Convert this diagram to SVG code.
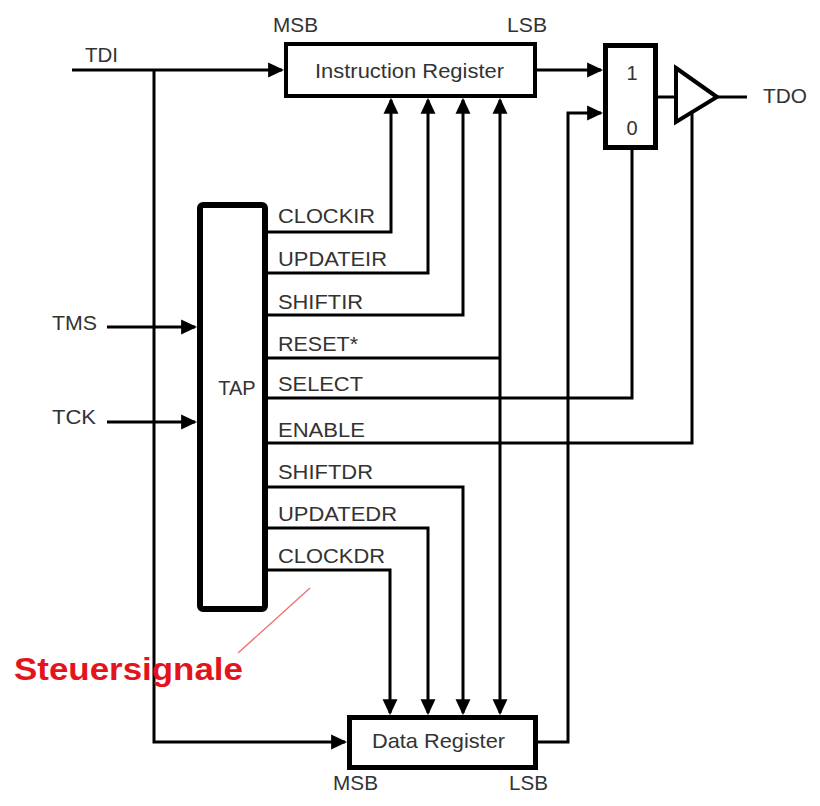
<svg xmlns="http://www.w3.org/2000/svg" width="820" height="806" viewBox="0 0 820 806">
<style>
.box{fill:#fff;stroke:#000}
.w{fill:none;stroke:#000;stroke-width:3;stroke-linejoin:miter}
.t{font-family:"Liberation Sans",Arial,sans-serif;font-size:20px;fill:#333}
.big{font-size:21px}
.red{font-family:"Liberation Sans",Arial,sans-serif;font-size:31px;font-weight:bold;fill:#e3141c}
</style>
<defs>
<marker id="ah" markerUnits="userSpaceOnUse" markerWidth="16" markerHeight="16" viewBox="0 0 15 14" refX="13" refY="7" orient="auto">
<path d="M0,0 L15,7 L0,14 z" fill="#000"/>
</marker>
</defs>
<rect width="820" height="806" fill="#fff"/>

<g id="connectors">
<path class="w" d="M72,70 H282" marker-end="url(#ah)"/>
<path class="w" d="M154,70 V742 H345" marker-end="url(#ah)"/>
<path class="w" d="M537,70 H601" marker-end="url(#ah)"/>
<path class="w" d="M538,742 H568 V113 H601" marker-end="url(#ah)"/>
<path class="w" d="M658,97 H676"/>
<path class="w" d="M716,97 H747"/>
<path class="w" d="M107,327 H195" marker-end="url(#ah)"/>
<path class="w" d="M107,422 H195" marker-end="url(#ah)"/>
<path class="w" d="M268,232 H391 V100" marker-end="url(#ah)"/>
<path class="w" d="M268,273 H428 V100" marker-end="url(#ah)"/>
<path class="w" d="M268,315 H463 V100" marker-end="url(#ah)"/>
<path class="w" d="M268,358 H500"/>
<path class="w" d="M500,358 V100" marker-end="url(#ah)"/>
<path class="w" d="M500,358 V713" marker-end="url(#ah)"/>
<path class="w" d="M268,398 H632 V150"/>
<path class="w" d="M268,443 H692 V110"/>
<path class="w" d="M268,487 H463 V713" marker-end="url(#ah)"/>
<path class="w" d="M268,528 H428 V713" marker-end="url(#ah)"/>
<path class="w" d="M268,570 H390 V713" marker-end="url(#ah)"/>
<path d="M310,588 L238,653" stroke="#f07070" stroke-width="1.3" fill="none"/>
</g>

<g id="instruction-register">
<rect class="box" x="286" y="44" width="249" height="52" stroke-width="4"/>
<text class="t big" x="315" y="78" textLength="189" lengthAdjust="spacingAndGlyphs">Instruction Register</text>
<text class="t big" x="273" y="32" textLength="45" lengthAdjust="spacingAndGlyphs">MSB</text>
<text class="t big" x="507" y="32" textLength="40" lengthAdjust="spacingAndGlyphs">LSB</text>
</g>

<g id="mux">
<rect class="box" x="605.5" y="45.5" width="50" height="102" stroke-width="5"/>
<text class="t" x="632" y="80" text-anchor="middle">1</text>
<text class="t" x="632" y="135" text-anchor="middle">0</text>
</g>

<g id="buffer">
<polygon class="box" points="676,68 717,97 676,122" stroke-width="4" stroke-linejoin="miter"/>
</g>

<g id="tdo">
<text class="t big" x="763" y="103" textLength="44" lengthAdjust="spacingAndGlyphs">TDO</text>
</g>

<g id="tdi">
<text class="t big" x="85" y="62" textLength="33" lengthAdjust="spacingAndGlyphs">TDI</text>
</g>

<g id="tms">
<text class="t big" x="52" y="330" textLength="45" lengthAdjust="spacingAndGlyphs">TMS</text>
</g>

<g id="tck">
<text class="t big" x="52" y="424" textLength="44" lengthAdjust="spacingAndGlyphs">TCK</text>
</g>

<g id="tap">
<rect class="box" x="200" y="205" width="65" height="404" rx="3" stroke-width="6"/>
<text class="t" x="237" y="395" text-anchor="middle" font-size="19">TAP</text>
</g>

<g id="signals">
<text class="t" x="278" y="223" textLength="97" lengthAdjust="spacingAndGlyphs">CLOCKIR</text>
<text class="t" x="278" y="266" textLength="109" lengthAdjust="spacingAndGlyphs">UPDATEIR</text>
<text class="t" x="278" y="309" textLength="85" lengthAdjust="spacingAndGlyphs">SHIFTIR</text>
<text class="t" x="278" y="351" textLength="80" lengthAdjust="spacingAndGlyphs">RESET*</text>
<text class="t" x="278" y="391" textLength="85" lengthAdjust="spacingAndGlyphs">SELECT</text>
<text class="t" x="278" y="437" textLength="87" lengthAdjust="spacingAndGlyphs">ENABLE</text>
<text class="t" x="278" y="479" textLength="95" lengthAdjust="spacingAndGlyphs">SHIFTDR</text>
<text class="t" x="278" y="521" textLength="119" lengthAdjust="spacingAndGlyphs">UPDATEDR</text>
<text class="t" x="278" y="563" textLength="107" lengthAdjust="spacingAndGlyphs">CLOCKDR</text>
</g>

<g id="data-register">
<rect class="box" x="349.5" y="717.5" width="186" height="50" stroke-width="5"/>
<text class="t big" x="372" y="748" textLength="133" lengthAdjust="spacingAndGlyphs">Data Register</text>
<text class="t big" x="333" y="790" textLength="45" lengthAdjust="spacingAndGlyphs">MSB</text>
<text class="t big" x="509" y="790" textLength="39" lengthAdjust="spacingAndGlyphs">LSB</text>
</g>

<g id="steuersignale">
<text class="red" x="14" y="680" textLength="229" lengthAdjust="spacingAndGlyphs">Steuersignale</text>
</g>
</svg>
